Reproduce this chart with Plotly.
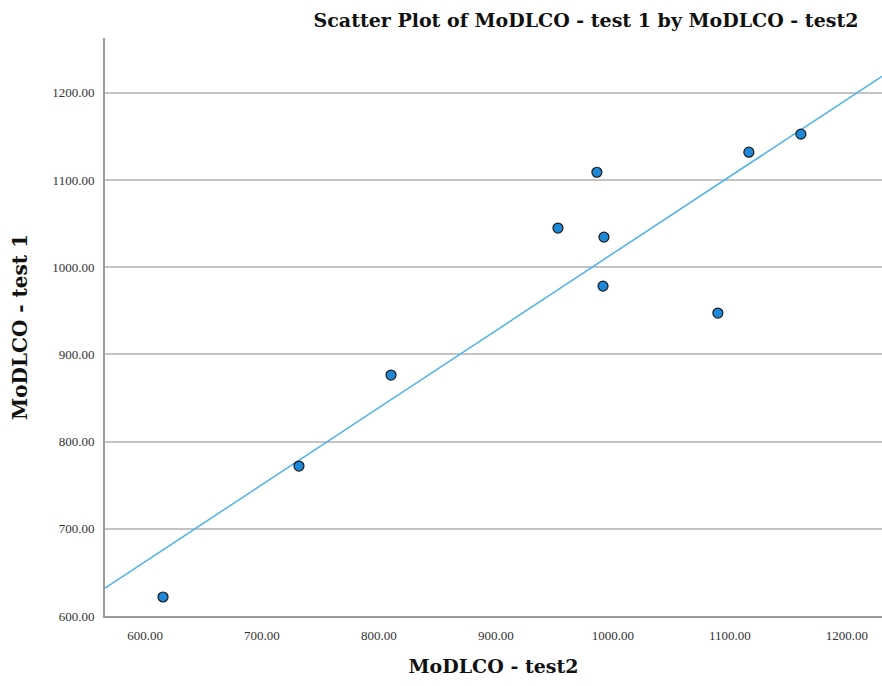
import numpy as np
import plotly.graph_objects as go

# MoDLCO measurements, test 2 (x) versus test 1 (y)
test2 = [615.4, 731.6, 810.3, 953.0, 986.3, 992.3, 991.5, 1089.7, 1116.2, 1160.7]
test1 = [621.8, 772.0, 876.4, 1045.0, 1109.0, 1034.6, 978.4, 947.5, 1132.0, 1152.7]

x_ticks = [600, 700, 800, 900, 1000, 1100, 1200]
y_ticks = [600, 700, 800, 900, 1000, 1100, 1200]

x_range = [565.8, 1230.0]
y_range = [600.0, 1263.0]

# least-squares fit line across the full x range
slope, intercept = np.polyfit(test2, test1, 1)
fit_x = np.array(x_range)
fit_y = slope * fit_x + intercept

serif = "Liberation Serif, DejaVu Serif, serif"
heading = "DejaVu Serif, Liberation Serif, serif"

fig = go.Figure()
fig.add_trace(go.Scatter(
    x=fit_x, y=fit_y, mode="lines",
    line=dict(color="#4cb0ee", width=1.5),
    hoverinfo="skip", showlegend=False, cliponaxis=True,
))
fig.add_trace(go.Scatter(
    x=test2, y=test1, mode="markers",
    marker=dict(size=10, color="#1e88d8", line=dict(color="#1a1a1a", width=1.2)),
    showlegend=False,
))

fig.update_layout(
    width=882, height=686,
    margin=dict(l=105, r=0, t=38, b=70),
    paper_bgcolor="white", plot_bgcolor="white",
    font=dict(family=serif, color="#333333", size=13),
    title=dict(
        text="<b>Scatter Plot of MoDLCO - test 1 by MoDLCO - test2</b>",
        font=dict(family=heading, size=19, color="#111111"),
        x=586 / 882, xanchor="center", y=1 - 20 / 686, yanchor="middle",
    ),
    xaxis=dict(
        range=x_range, tickvals=x_ticks,
        ticktext=[f"{v:.2f}" for v in x_ticks],
        showgrid=False, zeroline=False,
        showline=True, linecolor="#9a9a9a", linewidth=2,
        ticks="", ticklabelstandoff=6,
        tickfont=dict(family=serif, size=13, color="#333333"),
        title=dict(text="<b>MoDLCO - test2</b>", standoff=18,
                   font=dict(family=heading, size=19, color="#111111")),
    ),
    yaxis=dict(
        range=y_range, tickvals=y_ticks,
        ticktext=[f"{v:.2f}" for v in y_ticks],
        showgrid=True, gridcolor="#c4c4c4", gridwidth=1.5,
        zeroline=False,
        showline=True, linecolor="#9a9a9a", linewidth=2,
        ticks="", ticklabelstandoff=6,
        tickfont=dict(family=serif, size=13, color="#333333"),
        title=dict(text="<b>MoDLCO - test 1</b>", standoff=19,
                   font=dict(family=heading, size=20, color="#111111")),
    ),
)

fig.write_html("out.html")
